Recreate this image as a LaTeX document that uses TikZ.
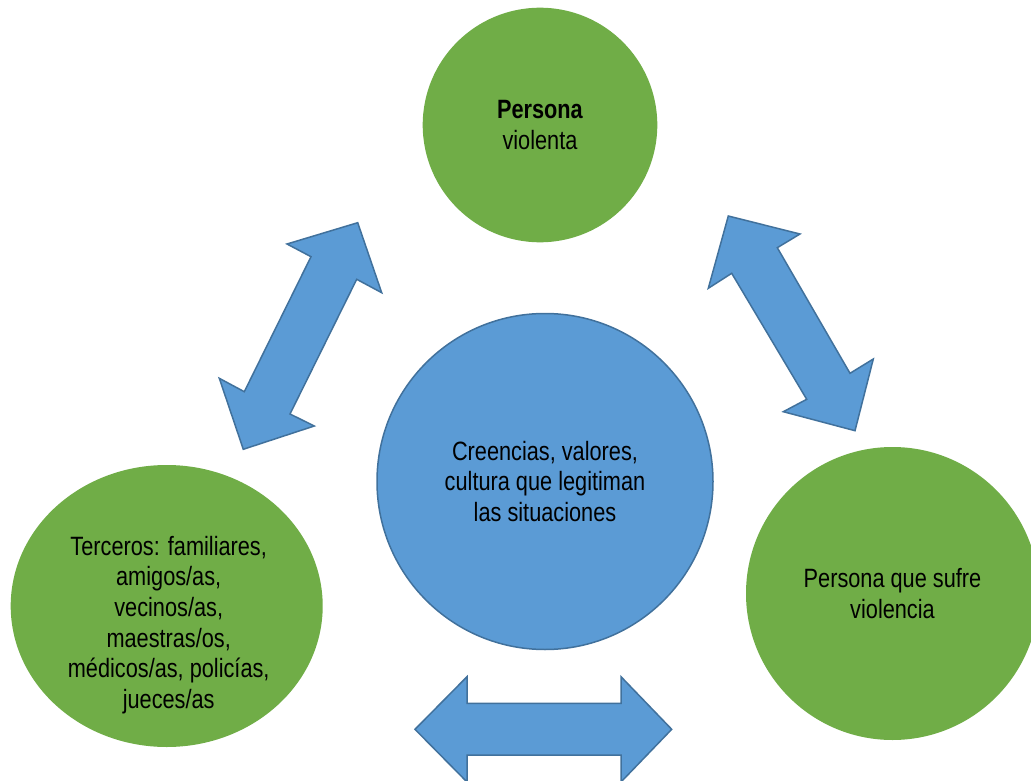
\documentclass[tikz,border=0pt]{standalone}
\usepackage{fontspec}
\setmainfont[FakeStretch=0.82]{Liberation Sans}
\usetikzlibrary{shapes.geometric,calc}
\definecolor{ovgreen}{HTML}{70AD47}
\definecolor{ovblue}{HTML}{5B9BD5}
\definecolor{ovedge}{HTML}{41719C}

\begin{document}
\begin{tikzpicture}[x=1pt,y=-1pt,
  txt/.style={align=center,font=\fontsize{26.5}{30.7}\selectfont},
  greencirc/.style={circle,fill=ovgreen,inner sep=0pt,minimum size=#1,txt},
  bluecirc/.style={circle,fill=ovblue,draw=ovedge,line width=1.5pt,inner sep=0pt,minimum size=#1,txt},
  blockarrow/.style={fill=ovblue,draw=ovedge,line width=1.5pt,line join=miter}]
  \useasboundingbox (0,0) rectangle (1031,781);
  \clip (0,0) rectangle (1031,781);

  \node[greencirc=234.6pt] (viol) at (540,125) {\textbf{Persona}\\violenta};
  \node[bluecirc=336pt] (creen) at (545,481.5) {Creencias, valores,\\cultura que legitiman\\las situaciones};
  \node[greencirc=293pt] (sufre) at (892.5,593.5) {Persona que sufre\\violencia};
  \node[ellipse,fill=ovgreen,inner sep=0pt,minimum width=312pt,minimum height=282pt] (terc) at (166.7,606) {};
  \node[txt] (tercT) at ($(terc.center)+(2,19)$) {Terceros: familiares,\\amigos/as,\\vecinos/as,\\maestras/os,\\médicos/as, policías,\\jueces/as};

  % double block arrows
  \draw[blockarrow] (357.7,222.7) -- (381.7,292.7) -- (356.7,279.3) -- (290,414) -- (314.3,426)
    -- (243.3,449.3) -- (219.3,378.3) -- (244.3,391.7) -- (311,256.7) -- (287,244) -- cycle;
  \draw[blockarrow] (728.3,216) -- (800,234) -- (777.3,247.7) -- (850,373.3) -- (873.3,359)
    -- (855,430.7) -- (783.3,411.7) -- (806.7,399.3) -- (731.7,273.3) -- (708.3,288.3) -- cycle;
  \draw[blockarrow] (415,729.3) -- (467,676.7) -- (467,703.3) -- (621,703.3) -- (621,676.7)
    -- (671.7,729.3) -- (621,782) -- (621,755) -- (467,755) -- (467,782) -- cycle;
\end{tikzpicture}
\end{document}
